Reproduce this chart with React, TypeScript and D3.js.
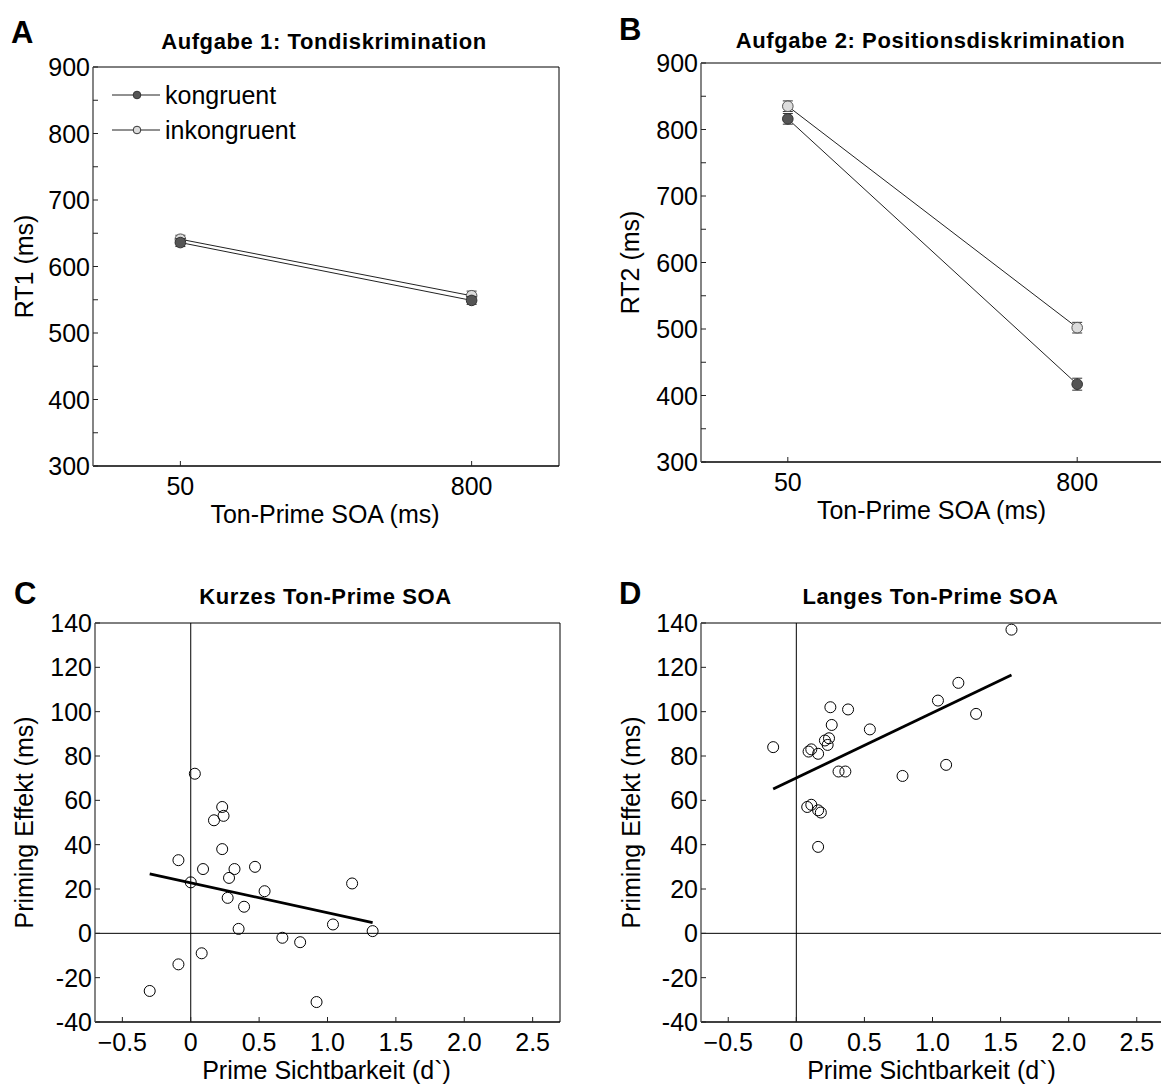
import React from "react";
import * as d3 from "d3";

const FONT = "'Liberation Sans', Arial, Helvetica, sans-serif";

// Aufgabe 1 / 2: reaction times by SOA
const soaLabels = ["50", "800"];
const rtTicks = [300, 400, 500, 600, 700, 800, 900];
const rtMinorTicks = [350, 450, 550, 650, 750, 850];
const rt1Kongruent = [636, 549];
const rt1Inkongruent = [641, 556];
const rt1KongruentErr = [6, 6];
const rt1InkongruentErr = [6, 7];
const rt2Kongruent = [816, 417];
const rt2Inkongruent = [835, 502];
const rt2KongruentErr = [8, 9];
const rt2InkongruentErr = [8, 8];
const legendLabels = ["kongruent", "inkongruent"];

// Priming effect vs prime visibility
const dprimeTicks = [-0.5, 0, 0.5, 1.0, 1.5, 2.0, 2.5];
const effectTicks = [-40, -20, 0, 20, 40, 60, 80, 100, 120, 140];
const shortDprime = [0.03, 0.23, 0.24, 0.17, 0.23, -0.09, 0.09, 0.32, 0.47, 0.28, 0.0, 1.18, 0.54, 0.27, 0.39, 1.04, 0.35, 1.33, 0.67, 0.8, 0.08, -0.09, -0.3, 0.92];
const shortEffect = [72, 57, 53, 51, 38, 33, 29, 29, 30, 25, 23, 22.5, 19, 16, 12, 4, 2, 1, -2, -4, -9, -14, -26, -31];
const shortFit = [22.8, -13.5]; // intercept, slope
const longDprime = [1.58, 1.19, 1.04, 1.32, 0.25, 0.38, 0.26, 0.54, 0.21, 0.24, 0.23, -0.17, 0.09, 0.11, 0.16, 0.31, 0.36, 1.1, 0.78, 0.08, 0.11, 0.16, 0.18, 0.16];
const longEffect = [137, 113, 105, 99, 102, 101, 94, 92, 87, 88, 85, 84, 82, 83, 81, 73, 73, 76, 71, 57, 58, 55.5, 54.5, 39];
const longFit = [70.1, 29.4];

type Box = { left: number; right: number; top: number; bottom: number };

function Header({ box, letter, lx, ly, title, ty }: any) {
  return (
    <g>
      <text x={lx} y={ly} fontSize={31} fontWeight="bold" fontFamily={FONT}>{letter}</text>
      <text x={(box.left + box.right) / 2 - 2} y={ty} textAnchor="middle" fontSize={22} letterSpacing={0.6} fontWeight="bold" fontFamily={FONT}>{title}</text>
    </g>
  );
}

function YAxis({ box, y, ticks, minor, ylabel, lblX }: any) {
  return (
    <g fontFamily={FONT} fontSize={25}>
      {ticks.map((t: number) => (
        <g key={t}>
          <line x1={box.left} x2={box.left + 5} y1={y(t)} y2={y(t)} stroke="#222" />
          <text x={box.left - 3} y={y(t) + 9} textAnchor="end">{t}</text>
        </g>
      ))}
      {(minor || []).map((t: number) => (
        <line key={t} x1={box.left} x2={box.left + 5} y1={y(t)} y2={y(t)} stroke="#222" />
      ))}
      <text transform={`translate(${lblX},${(box.top + box.bottom) / 2}) rotate(-90)`} textAnchor="middle">{ylabel}</text>
    </g>
  );
}

function Frame({ box }: { box: Box }) {
  return (
    <g fill="none">
      <line x1={box.left} x2={box.right} y1={box.top} y2={box.top} stroke="#000" />
      <line x1={box.right} x2={box.right} y1={box.top} y2={box.bottom} stroke="#000" />
      <line x1={box.left} x2={box.right} y1={box.bottom} y2={box.bottom} stroke="#000" strokeWidth={1.3} />
      <line x1={box.left} x2={box.left} y1={box.top} y2={box.bottom} stroke="#666" strokeWidth={1.6} />
    </g>
  );
}

function RTPanel({ box, letter, lx, ly, title, ty, ylabel, lblX, kon, inkon, konErr, inkonErr, legend }: any) {
  const x = d3.scalePoint<string>().domain(soaLabels).range([box.left, box.right]).padding(0.3);
  const y = d3.scaleLinear().domain([300, 900]).range([box.bottom, box.top]);
  const line = d3.line<number>().x((_, i) => x(soaLabels[i])!).y((d) => y(d));
  const series = [
    { vals: inkon, err: inkonErr, fill: "#dcdcdc", stroke: "#555" },
    { vals: kon, err: konErr, fill: "#555", stroke: "#333" },
  ];
  return (
    <g>
      <Header box={box} letter={letter} lx={lx} ly={ly} title={title} ty={ty} />
      <Frame box={box} />
      <YAxis box={box} y={y} ticks={rtTicks} minor={rtMinorTicks} ylabel={ylabel} lblX={lblX} />
      <g fontFamily={FONT} fontSize={25}>
        {soaLabels.map((s) => (
          <g key={s}>
            <line x1={x(s)} x2={x(s)} y1={box.bottom} y2={box.bottom - 5} stroke="#222" />
            <text x={x(s)} y={box.bottom + 29} textAnchor="middle">{s}</text>
          </g>
        ))}
        <text x={(box.left + box.right) / 2 - 1} y={box.bottom + 57} textAnchor="middle">Ton-Prime SOA (ms)</text>
      </g>
      {series.map((s, k) => (
        <g key={k}>
          <path d={line(s.vals)!} fill="none" stroke="#222" strokeWidth={1} />
          {s.vals.map((v: number, i: number) => {
            const cx = x(soaLabels[i])!;
            return (
              <g key={i} stroke="#333">
                <line x1={cx} x2={cx} y1={y(v - s.err[i])} y2={y(v + s.err[i])} />
                <line x1={cx - 5} x2={cx + 5} y1={y(v - s.err[i])} y2={y(v - s.err[i])} />
                <line x1={cx - 5} x2={cx + 5} y1={y(v + s.err[i])} y2={y(v + s.err[i])} />
                <circle cx={cx} cy={y(v)} r={5.3} fill={s.fill} stroke={s.stroke} />
              </g>
            );
          })}
        </g>
      ))}
      {legend && (
        <g fontFamily={FONT} fontSize={25}>
          {legendLabels.map((l, i) => {
            const ly2 = box.top + 28 + i * 35;
            return (
              <g key={l}>
                <line x1={box.left + 19} x2={box.left + 67} y1={ly2} y2={ly2} stroke="#222" />
                <circle cx={box.left + 44} cy={ly2} r={3.8} fill={i === 0 ? "#555" : "#dcdcdc"} stroke="#333" />
                <text x={box.left + 72} y={ly2 + 9}>{l}</text>
              </g>
            );
          })}
        </g>
      )}
    </g>
  );
}

function ScatterPanel({ box, letter, lx, ly, title, ty, lblX, xs, ys, fit }: any) {
  const x = d3.scaleLinear().domain([-0.7, 2.7]).range([box.left, box.right]);
  const y = d3.scaleLinear().domain([-40, 140]).range([box.bottom, box.top]);
  const [x0, x1] = d3.extent(xs as number[]) as [number, number];
  const fmt = (t: number) => (t === 0 ? "0" : d3.format(".1f")(t));
  return (
    <g>
      <Header box={box} letter={letter} lx={lx} ly={ly} title={title} ty={ty} />
      <line x1={box.left} x2={box.right} y1={y(0)} y2={y(0)} stroke="#000" />
      <line x1={x(0)} x2={x(0)} y1={box.top} y2={box.bottom} stroke="#000" />
      <Frame box={box} />
      <YAxis box={box} y={y} ticks={effectTicks} ylabel="Priming Effekt (ms)" lblX={lblX} />
      <g fontFamily={FONT} fontSize={25}>
        {dprimeTicks.map((t) => (
          <g key={t}>
            <line x1={x(t)} x2={x(t)} y1={box.bottom} y2={box.bottom - 5} stroke="#222" />
            <text x={x(t)} y={box.bottom + 29} textAnchor="middle">{fmt(t)}</text>
          </g>
        ))}
        <text x={(box.left + box.right) / 2 - 1} y={box.bottom + 57} textAnchor="middle">Prime Sichtbarkeit (d`)</text>
      </g>
      {xs.map((d: number, i: number) => (
        <circle key={i} cx={x(d)} cy={y(ys[i])} r={5.5} fill="none" stroke="#000" strokeWidth={1} />
      ))}
      <line x1={x(x0)} x2={x(x1)} y1={y(fit[0] + fit[1] * x0)} y2={y(fit[0] + fit[1] * x1)} stroke="#000" strokeWidth={2.8} />
    </g>
  );
}

export default function App() {
  const boxA = { left: 93, right: 559, top: 67, bottom: 466 };
  const boxB = { left: 701, right: 1164, top: 63, bottom: 462 };
  const boxC = { left: 95, right: 560, top: 623, bottom: 1022 };
  const boxD = { left: 701, right: 1164, top: 623, bottom: 1022 };
  return (
    <svg width={1161} height={1084} style={{ position: "absolute", left: 0, top: 0, background: "#fff" }}>
      <rect width={1161} height={1084} fill="#fff" />
      <RTPanel box={boxA} letter="A" lx={11} ly={43} title="Aufgabe 1: Tondiskrimination" ty={49} ylabel="RT1 (ms)" lblX={33}
        kon={rt1Kongruent} inkon={rt1Inkongruent} konErr={rt1KongruentErr} inkonErr={rt1InkongruentErr} legend />
      <RTPanel box={boxB} letter="B" lx={619} ly={40} title="Aufgabe 2: Positionsdiskrimination" ty={48} ylabel="RT2 (ms)" lblX={639}
        kon={rt2Kongruent} inkon={rt2Inkongruent} konErr={rt2KongruentErr} inkonErr={rt2InkongruentErr} />
      <ScatterPanel box={boxC} letter="C" lx={14} ly={604} title="Kurzes Ton-Prime SOA" ty={604} lblX={33}
        xs={shortDprime} ys={shortEffect} fit={shortFit} />
      <ScatterPanel box={boxD} letter="D" lx={619} ly={604} title="Langes Ton-Prime SOA" ty={604} lblX={640}
        xs={longDprime} ys={longEffect} fit={longFit} />
    </svg>
  );
}
